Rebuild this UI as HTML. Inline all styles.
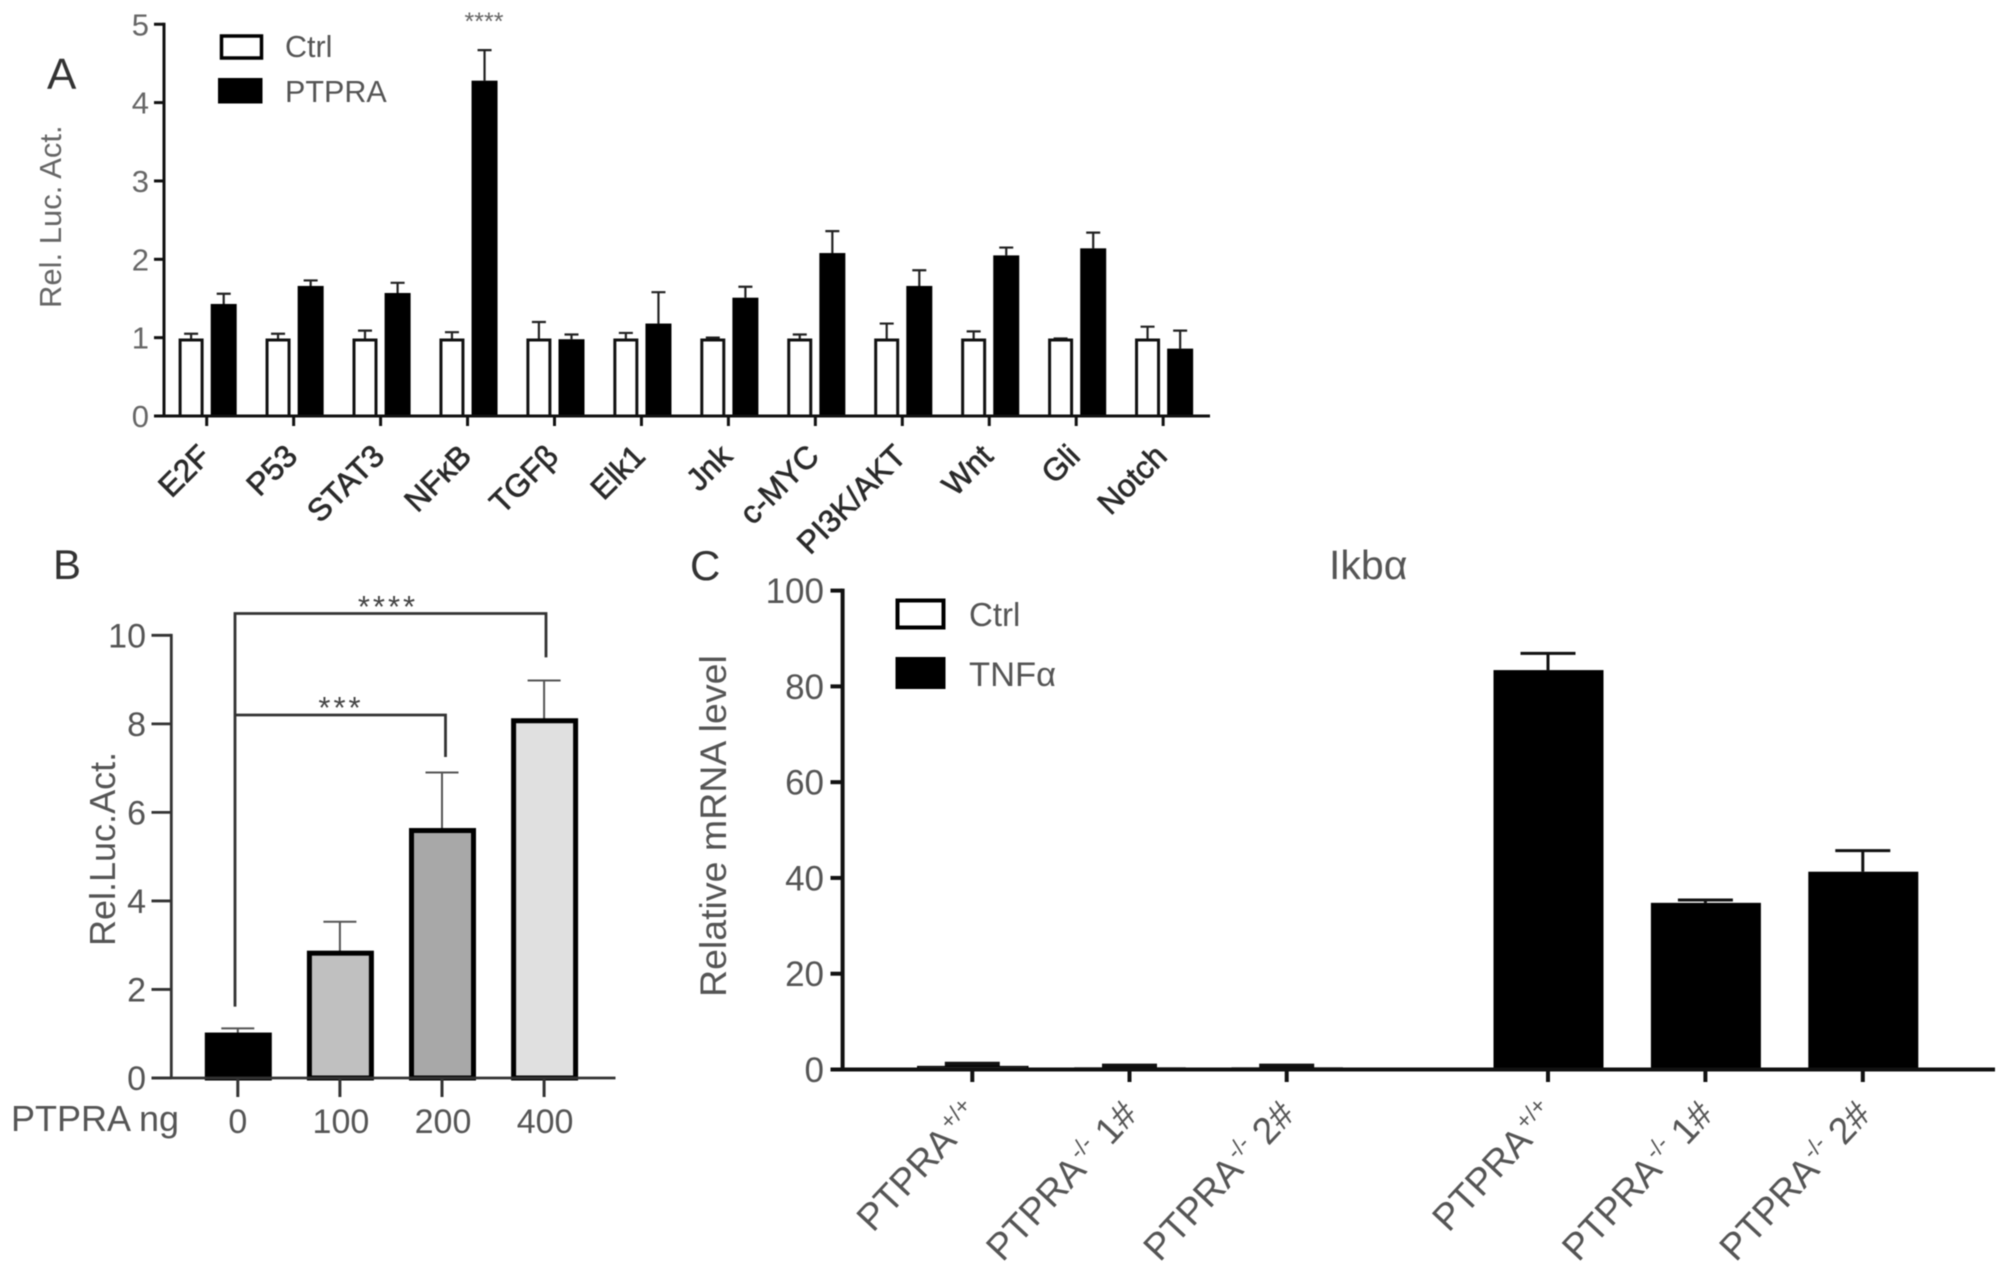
<!DOCTYPE html>
<html lang="en">
<head>
<meta charset="utf-8">
<title>PTPRA luciferase and Ikba mRNA bar charts</title>
<style>
html,body{margin:0;padding:0;background:#fff;}
svg{display:block;filter:blur(0.5px);}
text{font-family:"Liberation Sans","DejaVu Sans",sans-serif;}
</style>
</head>
<body>
<svg id="fig" xmlns="http://www.w3.org/2000/svg" width="2008" height="1274" viewBox="0 0 2008 1274">
  <rect x="0" y="0" width="2008" height="1274" fill="#fff"/>

  <g id="panelA">
    <text x="47" y="89" font-size="44" fill="#333">A</text>
    <text transform="translate(61,308) rotate(-90)" font-size="31" fill="#666">Rel. Luc. Act.</text>
    <rect x="221.5" y="36" width="40" height="22" fill="#fff" stroke="#000" stroke-width="3.5"/>
    <text x="285" y="57" font-size="30.5" fill="#555">Ctrl</text>
    <rect x="218" y="78" width="44.5" height="25.5" fill="#000"/>
    <text x="285" y="101.8" font-size="30.5" fill="#555">PTPRA</text>
    <text x="484" y="30" font-size="25" text-anchor="middle" fill="#666">****</text>
  </g>

  <g id="panelB">
    <text x="53" y="579" font-size="42" fill="#333">B</text>
    <text transform="translate(115,946) rotate(-90)" font-size="36" fill="#555">Rel.Luc.Act.</text>
    <text x="11" y="1131" font-size="36" fill="#555">PTPRA ng</text>
    <path d="M235 1006.6V613.5H546V657.4" fill="none" stroke="#333" stroke-width="2.8"/>
    <path d="M235 715H445.5V757" fill="none" stroke="#333" stroke-width="2.8"/>
    <text x="388" y="617" font-size="31" letter-spacing="3" text-anchor="middle" fill="#444">****</text>
    <text x="341" y="718" font-size="31" letter-spacing="3" text-anchor="middle" fill="#444">***</text>
  </g>

  <g id="panelC">
    <text x="690" y="580" font-size="42" fill="#333">C</text>
    <text x="1329" y="579" font-size="41" fill="#555">Ikbα</text>
    <text transform="translate(726,997) rotate(-90)" font-size="37.5" fill="#555">Relative mRNA level</text>
    <rect x="897.5" y="600.5" width="46" height="27" fill="#fff" stroke="#000" stroke-width="4"/>
    <text x="969" y="626" font-size="33" fill="#555">Ctrl</text>
    <rect x="895.5" y="657" width="50" height="32" fill="#000"/>
    <text x="969" y="686" font-size="34.5" fill="#555">TNFα</text>
  </g>
</svg>

<script>
// Panel A data
const aCategories = ['E2F','P53','STAT3','NFκB','TGFβ','Elk1','Jnk','c-MYC','PI3K/AKT','Wnt','Gli','Notch'];
const aCtrlValues = [0.97,0.97,0.97,0.97,0.97,0.97,0.97,0.97,0.97,0.97,0.97,0.97];
const aCtrlErrors = [0.08,0.08,0.12,0.10,0.23,0.09,0.03,0.07,0.21,0.11,0.02,0.17];
const aPtpraValues = [1.43,1.66,1.57,4.28,0.98,1.18,1.51,2.08,1.66,2.05,2.14,0.86];
const aPtpraErrors = [0.13,0.07,0.13,0.39,0.06,0.40,0.14,0.28,0.20,0.10,0.20,0.23];
const aTicks = [0,1,2,3,4,5];

// Panel B data
const bCategories = ['0','100','200','400'];
const bValues = [0.97,2.82,5.59,8.07];
const bErrors = [0.15,0.71,1.31,0.91];
const bFills = ['#000000','#c0c0c0','#a8a8a8','#e0e0e0'];
const bTicks = [0,2,4,6,8,10];

// Panel C data
const cGroups = ['ctrl','ctrl','ctrl','tnf','tnf','tnf'];
const cLabelSup = ['+/+','-/-','-/-','+/+','-/-','-/-'];
const cLabelSuffix = ['',' 1#',' 2#','',' 1#',' 2#'];
const cValues = [0.6,0.3,0.3,83.4,34.8,41.3];
const cErrors = [0.5,0.4,0.4,3.5,0.6,4.4];
const cTicks = [0,20,40,60,80,100];

const NS = 'http://www.w3.org/2000/svg';
function mk(parent, tag, attrs, txt){
  const el = document.createElementNS(NS, tag);
  for (const k in attrs) el.setAttribute(k, attrs[k]);
  if (txt !== undefined) el.textContent = txt;
  parent.appendChild(el);
  return el;
}

// axis functions
const ay = v => 416 - v * 78.35;
const ax = i => 206.7 + i * 86.95;
const by = v => 1078 - v * 44.27;
const bx = i => 237.8 + i * 102.1;
const cy = v => 1069.5 - v * 4.789;
const cx = i => (i < 3 ? 972.3 + i * 157.2 : 1548 + (i - 3) * 157.4);

function errorBar(g, x, yBase, yTop, cap, w, col){
  return mk(g, 'path', {d:'M'+x+' '+yBase+'V'+yTop+'M'+(x-cap/2)+' '+yTop+'H'+(x+cap/2), fill:'none', stroke:col, 'stroke-width':w});
}

// ---------- Panel A ----------
const gA = document.getElementById('panelA');
aCategories.forEach(function(cat, i){
  const t = ax(i);
  const e1 = errorBar(gA, t-15.6, ay(aCtrlValues[i]), ay(aCtrlValues[i]+aCtrlErrors[i]), 14, 2.2, '#222');
  
  
  const e2 = errorBar(gA, t+17, ay(aPtpraValues[i]), ay(aPtpraValues[i]+aPtpraErrors[i]), 14, 2.2, '#222');
  
  
  const b1 = mk(gA, 'rect', {x:t-26.6, y:ay(aCtrlValues[i]), width:22, height:ay(0)-ay(aCtrlValues[i]), fill:'#fff', stroke:'#111', 'stroke-width':3});
  
  
  const b2 = mk(gA, 'rect', {x:t+4, y:ay(aPtpraValues[i]), width:26, height:ay(0)-ay(aPtpraValues[i]), fill:'#000'});
  
  
  const tk = mk(gA, 'line', {x1:t, x2:t, y1:ay(0), y2:426, stroke:'#111', 'stroke-width':3});
  
  
  const lb = mk(gA, 'text', {transform:'translate('+(t+5.5)+',458) rotate(-45)', 'font-size':31.5, 'text-anchor':'end', fill:'#2a2a2a', stroke:'#2a2a2a', 'stroke-width':0.7}, cat);
  
  
});
const aAxisX = mk(gA, 'line', {x1:154, x2:1210, y1:ay(0), y2:ay(0), stroke:'#111', 'stroke-width':3});


const aAxisY = mk(gA, 'line', {x1:164, x2:164, y1:ay(5)-1.5, y2:ay(0), stroke:'#111', 'stroke-width':3});


aTicks.forEach(function(v){
  const tk = mk(gA, 'line', {x1:154, x2:164, y1:ay(v), y2:ay(v), stroke:'#111', 'stroke-width':3});
  
  
  const lb = mk(gA, 'text', {x:149, y:ay(v)+11, 'font-size':31, 'text-anchor':'end', fill:'#666'}, String(v));
  
  
});

// ---------- Panel B ----------
const gB = document.getElementById('panelB');
bCategories.forEach(function(cat, i){
  const t = bx(i);
  const e = errorBar(gB, t, by(bValues[i]), by(bValues[i]+bErrors[i]), 33, 2, '#555');
  
  
  const b = mk(gB, 'rect', {x:t-30.5, y:by(bValues[i]), width:62, height:by(0)-by(bValues[i]), fill:bFills[i], stroke:'#000', 'stroke-width':5});
  
  
  const tk = mk(gB, 'line', {x1:t, x2:t, y1:by(0), y2:1097, stroke:'#333', 'stroke-width':3});
  
  
  const lb = mk(gB, 'text', {x:t+(i===0?0:1), y:1133, 'font-size':34, 'text-anchor':'middle', fill:'#555'}, cat);
  
  
});
const bAxisX = mk(gB, 'line', {x1:151.5, x2:615.5, y1:by(0), y2:by(0), stroke:'#333', 'stroke-width':2.8});


const bAxisY = mk(gB, 'line', {x1:171.3, x2:171.3, y1:by(10)-1.4, y2:by(0), stroke:'#333', 'stroke-width':2.8});


bTicks.forEach(function(v){
  const tk = mk(gB, 'line', {x1:151.5, x2:171.3, y1:by(v), y2:by(v), stroke:'#333', 'stroke-width':2.8});
  
  
  const lb = mk(gB, 'text', {x:146, y:by(v)+12, 'font-size':34, 'text-anchor':'end', fill:'#555'}, String(v));
  
  
});

// ---------- Panel C ----------
const gC = document.getElementById('panelC');
cGroups.forEach(function(group, i){
  const t = cx(i);
  const e = errorBar(gC, t, cy(cValues[i]), cy(cValues[i]+cErrors[i]), 55, group==='ctrl'?5:3, '#111');
  
  
  const b = mk(gC, 'rect', {x:t-54.5, y:cy(cValues[i]), width:110, height:cy(0)-cy(cValues[i]), fill:group==='ctrl'?'#fff':'#000', stroke:'#000', 'stroke-width':group==='ctrl'?1.5:0});
  
  
  const tk = mk(gC, 'line', {x1:t, x2:t, y1:cy(0), y2:1082, stroke:'#111', 'stroke-width':4});
  
  
  const lb = mk(gC, 'text', {transform:'translate('+(t+10)+',1116) rotate(-47)', 'font-size':37.5, 'text-anchor':'end', fill:'#555'});
  
  
  mk(lb, 'tspan', {}, 'PTPRA');
  mk(lb, 'tspan', {'font-size':23, dy:-14, dx:2}, cLabelSup[i]);
  mk(lb, 'tspan', {dy:14}, cLabelSuffix[i] === '' ? '\u200b' : cLabelSuffix[i]);
});
const cAxisX = mk(gC, 'line', {x1:830.5, x2:1995, y1:cy(0), y2:cy(0), stroke:'#111', 'stroke-width':4});


const cAxisY = mk(gC, 'line', {x1:842.6, x2:842.6, y1:cy(100)-2, y2:cy(0), stroke:'#111', 'stroke-width':4});


cTicks.forEach(function(v){
  const tk = mk(gC, 'line', {x1:830.5, x2:842.6, y1:cy(v), y2:cy(v), stroke:'#111', 'stroke-width':4});
  
  
  const lb = mk(gC, 'text', {x:824, y:cy(v)+12.5, 'font-size':35, 'text-anchor':'end', fill:'#555'}, String(v));
  
  
});
</script>
</body>
</html>
